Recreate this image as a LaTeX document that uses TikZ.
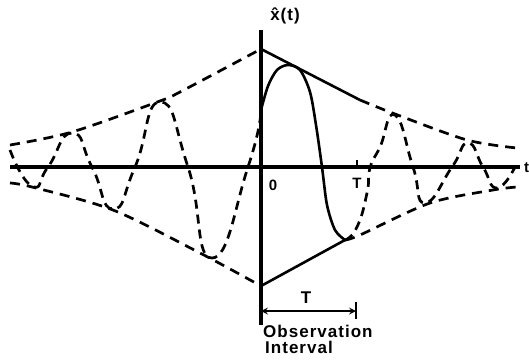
\documentclass[tikz,border=0pt]{standalone}
\usepackage{fontspec}
\setmainfont{Liberation Sans}
\newfontfamily\lblfont[LetterSpace=6]{Liberation Sans}
\begin{document}
\begin{tikzpicture}[x=1pt, y=-1pt, >=stealth,
    axis/.style={line width=3.4pt},
    env/.style={line width=2.7pt, dash pattern=on 10pt off 7pt},
    wave/.style={line width=2.7pt, dash pattern=on 9pt off 6pt},
    hold/.style={line width=2.6pt},
    lbl/.style={font=\lblfont\bfseries\fontsize{15}{17}\selectfont, inner sep=0pt},
    biglbl/.style={lbl, font=\lblfont\bfseries\fontsize{17}{19}\selectfont}]
    \useasboundingbox (0,0) rectangle (529,361);

    \coordinate (O) at (261,167);
    \coordinate (tl) at (10,167);
    \coordinate (tr) at (520,167);
    \coordinate (ytop) at (261,30);
    \coordinate (ybot) at (261,325);
    \coordinate (up0) at (261,49);
    \coordinate (up1) at (360,100);
    \coordinate (lo0) at (261,286);
    \coordinate (lo1) at (345,240);
    \coordinate (Ta) at (261,311);
    \coordinate (Tb) at (356,311);

    \draw[axis] (tl) -- (tr);
    \draw[axis] (ytop) -- (ybot);

    \draw[env] plot[smooth] coordinates {(10,145) (72,132) (160,101) (180,92) (261,49)};
    \draw[hold] (up0) -- (up1);
    \draw[env] plot[smooth] coordinates {(360,100) (395,114) (467,140) (517,148)};
    \draw[env] plot[smooth] coordinates {(10,183) (32,187) (113,210) (200,253) (261,286)};
    \draw[hold] (lo0) -- (lo1);
    \draw[env] plot[smooth] coordinates {(345,240) (360,235) (430,203) (493,190) (517,187)};

    \draw[wave] plot[smooth, tension=1] coordinates {(10,150) (32,186) (48,167) (72,133) (92,167)
        (113,209) (135,167) (160,102) (188,167) (212,258) (248,167) (261,110)};
    \draw[hold] plot[smooth] coordinates {(261,110) (268,86) (277,70) (288,65) (300,70) (310,92)
        (316,125) (322,167) (327,205) (335,230) (345,240)};
    \draw[wave] plot[smooth, tension=0.9] coordinates {(345,240) (357,227) (367,193) (370,168) (380,147)
        (395,115) (413,167) (425,203) (452,167) (468,143) (483,167) (497,188) (515,167)};

    \node[biglbl] (xhat) at (285,16) {\^x(t)};
    \node[lbl] (zero) at (273,185) {0};
    \node[lbl] (Tlab) at (357,183) {T};
    \draw[line width=1.8pt] (357,160) -- (357,167);
    \node[lbl, anchor=base west] (tlab) at (524,172) {t};

    \draw[<->, line width=2pt] (Ta) -- (Tb);
    \draw[line width=1.8pt] (356,302) -- (356,319);
    \node[biglbl] (Tint) at (306,298) {T};
    \node[biglbl, anchor=base west] (obs) at (263,337) {Observation};
    \node[biglbl, anchor=base west] (intv) at (265,353) {Interval};
\end{tikzpicture}
\end{document}
